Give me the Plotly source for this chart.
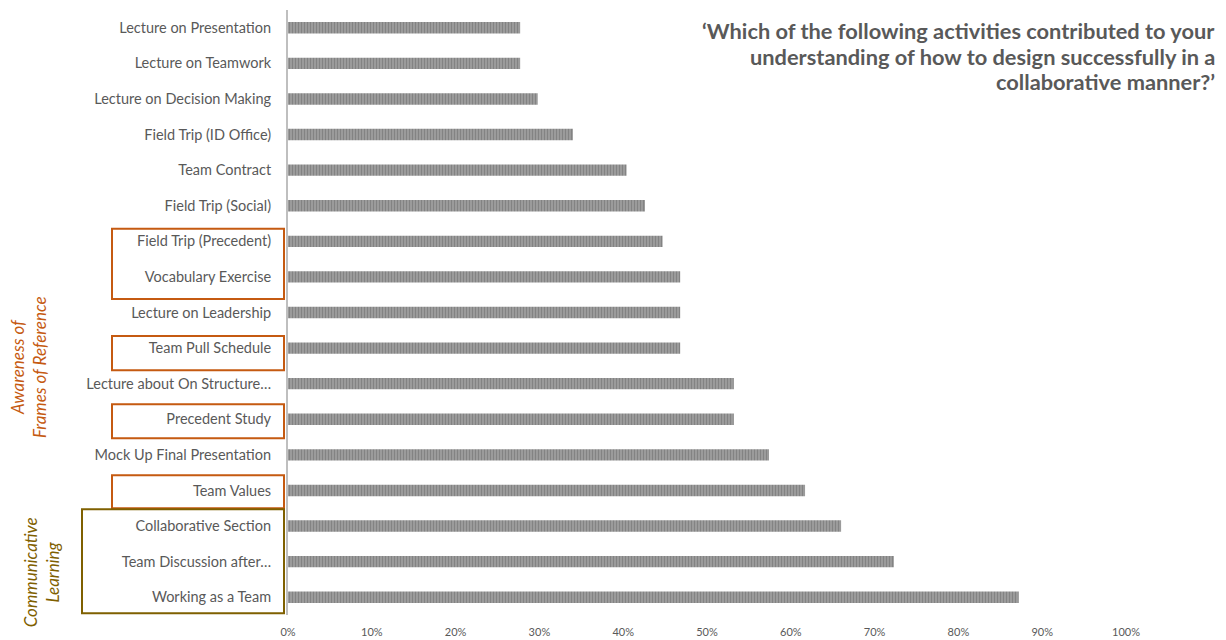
import plotly.graph_objects as go

categories = [
    "Lecture on Presentation",
    "Lecture on Teamwork",
    "Lecture on Decision Making",
    "Field Trip (ID Office)",
    "Team Contract",
    "Field Trip (Social)",
    "Field Trip (Precedent)",
    "Vocabulary Exercise",
    "Lecture on Leadership",
    "Team Pull Schedule",
    "Lecture about On Structure…",
    "Precedent Study",
    "Mock Up Final Presentation",
    "Team Values",
    "Collaborative Section",
    "Team Discussion after…",
    "Working as a Team",
]
values = [0.277, 0.277, 0.298, 0.340, 0.404, 0.426, 0.447, 0.468, 0.468, 0.468,
          0.532, 0.532, 0.574, 0.617, 0.660, 0.723, 0.872]

title_lines = [
    "‘Which of the following activities contributed to your",
    "understanding of how to design successfully in a",
    "collaborative manner?’",
]

ORANGE = "#C55A11"
OLIVE = "#7F6000"

fig = go.Figure()
fig.add_trace(go.Bar(
    x=values, y=categories, orientation="h", width=0.32,
    marker=dict(color="#a6a6a6", line=dict(width=0),
                pattern=dict(shape="|", fgcolor="#5f5f5f", bgcolor="#a6a6a6",
                             size=3, solidity=0.55)),
    hoverinfo="x+y",
))

fig.update_layout(
    width=1226, height=640,
    margin=dict(l=288, r=100, t=10, b=25, autoexpand=False),
    plot_bgcolor="white", paper_bgcolor="white",
    showlegend=False,
    font=dict(family="Lato, Open Sans, sans-serif", color="#595959"),
    xaxis=dict(range=[0, 1], tickformat=".0%", dtick=0.1, showgrid=False,
               zeroline=False, showline=False, ticks="", ticklabelstandoff=9,
               automargin=False,
               tickfont=dict(size=11, color="#595959")),
    yaxis=dict(range=[len(categories) - 0.5, -0.5], showgrid=False, zeroline=False,
               showline=True, linecolor="#bfbfbf", linewidth=2,
               ticks="", ticklabelstandoff=12, automargin=False,
               tickfont=dict(size=14.5, color="#595959")),
)

for i, line in enumerate(title_lines):
    fig.add_annotation(text=line, xref="paper", yref="paper",
                       x=(1217 - 288) / 838, y=(640 - 25 - (30 + 26 * i)) / 605,
                       xanchor="right", yanchor="middle",
                       align="right", showarrow=False,
                       font=dict(size=21.8, color="#595959", family="Lato, sans-serif",
                                 weight="bold"))

# boxes around labels
boxes = [
    (112, 5.65, 7.62, ORANGE),
    (112, 8.66, 9.62, ORANGE),
    (112, 10.58, 11.53, ORANGE),
    (112, 12.57, 13.50, ORANGE),
    (82, 13.53, 16.45, OLIVE),
]
for xl, y0, y1, col in boxes:
    fig.add_shape(type="rect", xref="paper", yref="y",
                  x0=(xl - 288) / 838, x1=(284 - 288) / 838, y0=y0, y1=y1,
                  line=dict(color=col, width=2), fillcolor="rgba(0,0,0,0)")

fig.add_annotation(text="<i>Awareness of<br>Frames of Reference</i>", xref="paper", yref="y",
                   x=(29 - 288) / 838, y=9.53, xanchor="center", yanchor="middle",
                   textangle=-90, showarrow=False,
                   font=dict(size=17, color=ORANGE, family="Lato, sans-serif"))
fig.add_annotation(text="<i>Communicative<br>Learning</i>", xref="paper", yref="y",
                   x=(41 - 288) / 838, y=15.3, xanchor="center", yanchor="middle",
                   textangle=-90, showarrow=False,
                   font=dict(size=17, color=OLIVE, family="Lato, sans-serif"))

fig.write_html("out.html")
